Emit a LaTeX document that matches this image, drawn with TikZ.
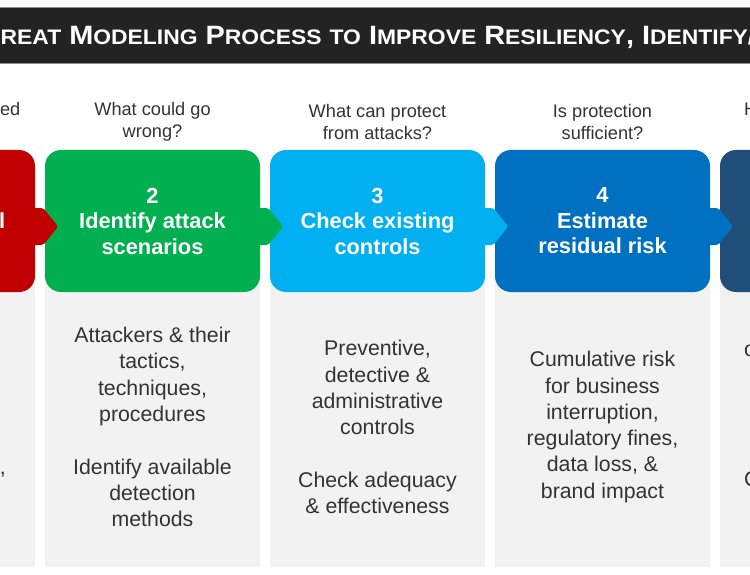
\documentclass[tikz,border=0pt]{standalone}
\usepackage{fontspec}
\usepackage{graphicx}
\setmainfont{Liberation Sans}
\usetikzlibrary{calc}
\definecolor{cred}{HTML}{C00000}
\definecolor{cgreen}{HTML}{00B050}
\definecolor{clblue}{HTML}{00B0F0}
\definecolor{cmblue}{HTML}{0070C0}
\definecolor{cnavy}{HTML}{1F4E79}
\definecolor{panelgrey}{HTML}{F2F2F2}
\definecolor{txt}{HTML}{333333}
\definecolor{titlebar}{HTML}{232323}
\newcommand{\SmC}[1]{{\fontsize{21}{21}\selectfont #1}}
\begin{document}
\begin{tikzpicture}[x=1pt,y=-1pt,
  box/.style={rounded corners=16pt, inner sep=0, minimum width=215pt, minimum height=142pt,
    text=white, font=\bfseries\fontsize{21.8}{25.5}\selectfont, align=center},
  panel/.style={fill=panelgrey, inner sep=0, minimum width=215pt, minimum height=346pt},
  body/.style={text=txt, font=\fontsize{21.3}{26.3}\selectfont, align=center, inner sep=0},
  question/.style={text=txt, font=\fontsize{18.2}{22}\selectfont, align=center, inner sep=0},
  tab/.style={rounded corners=2pt},
  titletext/.style={text=white, font=\bfseries\fontsize{26.5}{26.5}\selectfont, inner sep=0}]
\useasboundingbox (0,0) rectangle (750,575);
\clip (0,0) rectangle (750,575);
\fill[white] (0,0) rectangle (750,575);

% title bar
\node[fill=titlebar, draw=black!45, line width=0.8pt, minimum width=780pt, minimum height=56pt, inner sep=0] (bar) at (375,35) {};
\node[titletext, anchor=base east] (title0) at (0.5,45) {\scalebox{1.09}[1]{T\SmC{H}}};
\node[titletext, anchor=base west] (title1) at (0.5,45) {\scalebox{1.09}[1]{\SmC{REAT} M\SmC{ODELING} P\SmC{ROCESS} \SmC{TO} I\SmC{MPROVE} R\SmC{ESILIENCY}, I\SmC{DENTIFY}/}};

% grey panels
\node[panel] (p1) at (-72.5,394) {};
\node[panel] (p2) at (152.5,394) {};
\node[panel] (p3) at (377.5,394) {};
\node[panel] (p4) at (602.5,394) {};
\node[panel] (p5) at (827.5,394) {};

% coloured step boxes
\node[box, fill=cred] (b1) at (-72.5,221) {};
\node[box, fill=cgreen] (b2) at (152.5,221) {2\\Identify attack\\scenarios};
\node[box, fill=clblue] (b3) at (377.5,221) {3\\Check existing\\controls};
\node[box, fill=cmblue] (b4) at (602.5,221) {4\\Estimate\\residual risk};
\node[box, fill=cnavy] (b5) at (827.5,221) {};
\node[text=white, font=\bfseries\fontsize{21.8}{25.5}\selectfont, inner sep=0, anchor=base east] (b1t) at (5.5,228.5) {l};

% arrow tabs
\foreach \b/\c in {b1/cred, b2/cgreen, b3/clblue, b4/cmblue}{
  \fill[\c, tab] ($(\b.east)+(-3,-13)$) -- ++(11,0) -- ++(15,18.5) -- ++(-15,18.5) -- ++(-11,0) -- cycle;
}

% questions
\node[question, anchor=base east] (q1) at (20.5,116) {ed};
\node[question] (q2) at (152.5,122) {What could go\\wrong?};
\node[question] (q3) at (377.5,122) {What can protect\\from attacks?};
\node[question] (q4) at (602.5,122) {Is protection\\sufficient?};
\node[question, anchor=base west] (q5) at (744,116) {H};

% body texts
\node[body, anchor=base east] (d1) at (6,474) {,};
\node[body] (d2) at (152.5,427) {Attackers \& their\\tactics,\\techniques,\\procedures\\[26.3pt]Identify available\\detection\\methods};
\node[body] (d3) at (377.5,427) {Preventive,\\detective \&\\administrative\\controls\\[26.3pt]Check adequacy\\\& effectiveness};
\node[body] (d4) at (602.5,427) {Cumulative risk\\for business\\interruption,\\regulatory fines,\\data loss, \&\\brand impact};
\node[body, anchor=base west] (d5a) at (744,356) {c};
\node[body, anchor=base west] (d5b) at (744,486) {C};
\end{tikzpicture}
\end{document}
